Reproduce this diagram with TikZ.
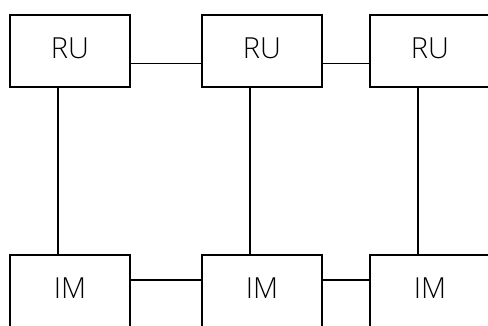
\documentclass[tikz,border=0pt]{standalone}
\usepackage{fontspec}
\setmainfont{Open Sans}[UprightFont=* Light]
\newcommand{\boxtext}[1]{\raisebox{5pt}{#1}}
\begin{document}
\begin{tikzpicture}[x=1pt,y=-1pt,
  box/.style={draw=black,line width=1.3pt,fill=white,minimum width=120pt,minimum height=72pt,inner sep=0pt,outer sep=0pt,font=\fontsize{29}{32}\selectfont},
  link/.style={draw=black,line width=1.3pt}]
\useasboundingbox (0,0) rectangle (488,325);
\node[box] (ru1) at (70,51) {\boxtext{RU}};
\node[box] (ru2) at (262,51) {\boxtext{RU}};
\node[box] (ru3) at (430,51) {\boxtext{RU}};
\node[box] (im1) at (70,291) {\boxtext{IM}};
\node[box] (im2) at (262,291) {\boxtext{IM}};
\node[box] (im3) at (430,291) {\boxtext{IM}};
\draw[link] ([yshift=-12.3pt]ru1.east) -- ([yshift=-12.3pt]ru2.west);
\draw[link] ([yshift=-12.3pt]ru2.east) -- ([yshift=-12.3pt]ru3.west);
\draw[link] ([yshift=11pt]im1.east) -- ([yshift=11pt]im2.west);
\draw[link] ([yshift=11pt]im2.east) -- ([yshift=11pt]im3.west);
\draw[link] ([xshift=-12pt]ru1.south) -- ([xshift=-12pt]im1.north);
\draw[link] ([xshift=-12pt]ru2.south) -- ([xshift=-12pt]im2.north);
\draw[link] ([xshift=-12pt]ru3.south) -- ([xshift=-12pt]im3.north);
\end{tikzpicture}
\end{document}
